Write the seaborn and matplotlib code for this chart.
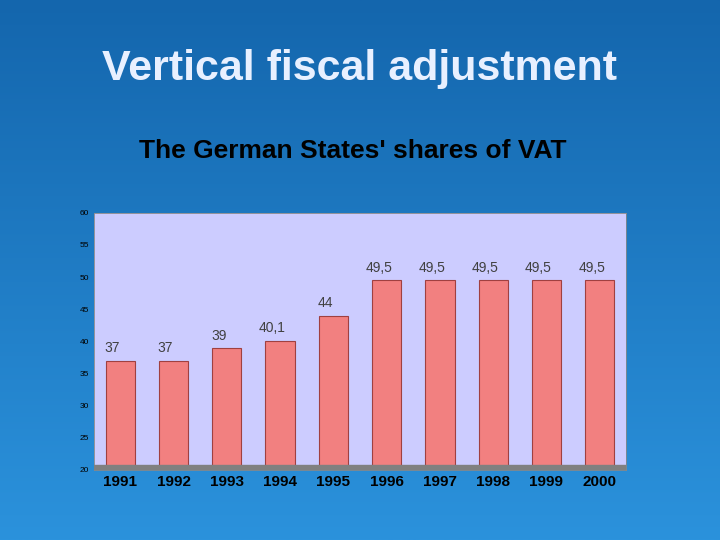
import matplotlib
matplotlib.use("Agg")
import matplotlib.pyplot as plt
import seaborn as sns
import numpy as np
import pandas as pd

years = ["1991","1992","1993","1994","1995","1996","1997","1998","1999","2000"]
shares = [37, 37, 39, 40.1, 44, 49.5, 49.5, 49.5, 49.5, 49.5]
labels = ["37","37","39","40,1","44","49,5","49,5","49,5","49,5","49,5"]

sns.set_theme(style="white")
plt.rcParams['font.family'] = ['Liberation Sans', 'DejaVu Sans']

fig = plt.figure(figsize=(7.2, 5.4), dpi=100)
bg = fig.add_axes([0, 0, 1, 1])
grad = np.linspace(0, 1, 256).reshape(-1, 1)
cmap = matplotlib.colors.LinearSegmentedColormap.from_list("bg", ["#1466ad", "#2b92dc"])
bg.imshow(grad, aspect="auto", cmap=cmap, extent=[0, 1, 0, 1], origin="upper")
bg.axis("off")

fig.text(0.5, 0.873, "Vertical fiscal adjustment", ha="center", va="center",
         color="#e8f0ff", fontsize=31, fontweight="bold")
fig.text(0.49, 0.72, "The German States' shares of VAT", ha="center", va="center",
         color="black", fontsize=19, fontweight="bold")

ax = fig.add_axes([0.13, 0.13, 0.74, 0.476])
ax.set_facecolor("#ccccff")
df = pd.DataFrame({"year": years, "share": shares})
sns.barplot(data=df, x="year", y="share", ax=ax, color="#f28080",
            edgecolor="#a04040", linewidth=0.8, width=0.55, saturation=1, bottom=0)
ax.set_ylim(20, 60)
ax.set_yticks(range(20, 61, 5))
ax.axhspan(20, 20.8, color="#808080", zorder=3)
for i, (v, l) in enumerate(zip(shares, labels)):
    ax.text(i - 0.15, v + 0.8, l, ha="center", va="bottom", fontsize=10, color="#404040")
ax.tick_params(axis="y", labelsize=6, colors="black", length=0)
ax.tick_params(axis="x", labelsize=11, length=0, colors="black")
for t in ax.get_xticklabels():
    t.set_fontweight("bold")
ax.set_xlabel("")
ax.set_ylabel("")
for s in ax.spines.values():
    s.set_color("#888888")
    s.set_linewidth(0.6)
fig.savefig("out.png", dpi=100)
